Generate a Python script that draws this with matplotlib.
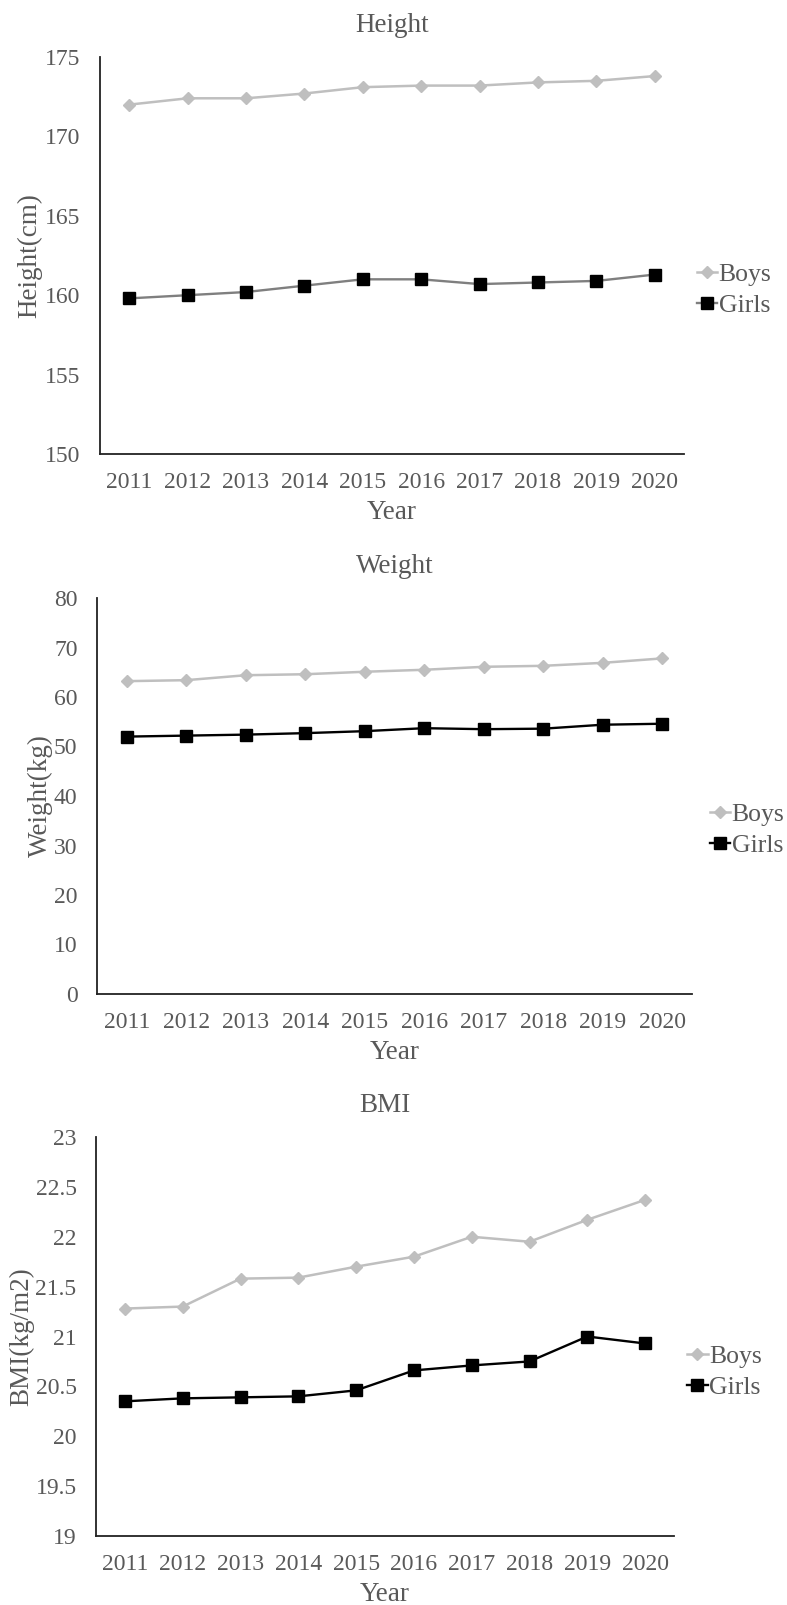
import matplotlib
matplotlib.use('Agg')
import matplotlib.pyplot as plt

plt.rcParams.update({
    'font.family': ['Liberation Serif', 'DejaVu Serif'],
    'text.color': '#595959',
    'axes.labelcolor': '#595959',
    'xtick.color': '#595959',
    'ytick.color': '#595959',
})

years = ['2011', '2012', '2013', '2014', '2015', '2016', '2017', '2018', '2019', '2020']

height_boys = [172.0, 172.4, 172.4, 172.7, 173.1, 173.2, 173.2, 173.4, 173.5, 173.8]
height_girls = [159.8, 160.0, 160.2, 160.6, 161.0, 161.0, 160.7, 160.8, 160.9, 161.3]

weight_boys = [63.2, 63.4, 64.4, 64.6, 65.1, 65.5, 66.1, 66.3, 66.9, 67.8]
weight_girls = [52.0, 52.2, 52.4, 52.7, 53.1, 53.7, 53.5, 53.6, 54.4, 54.6]

bmi_boys = [21.28, 21.30, 21.58, 21.59, 21.70, 21.80, 22.00, 21.95, 22.17, 22.37]
bmi_girls = [20.35, 20.38, 20.39, 20.40, 20.46, 20.66, 20.71, 20.75, 21.00, 20.93]

W, H = 787, 1605
fig = plt.figure(figsize=(W / 100, H / 100), dpi=100)

BOYS = '#BFBFBF'


def px_axes(left, right, top, bottom):
    return fig.add_axes([left / W, 1 - bottom / H, (right - left) / W, (bottom - top) / H])


def panel(ax, boys, girls, girls_line, title, ylabel, ylim, yticks, yticklabels,
          label_x, leg_xy):
    x = range(len(years))
    ax.plot(x, boys, color=BOYS, linewidth=1.8, marker='D', markersize=6.5,
            markerfacecolor=BOYS, markeredgecolor=BOYS, label='Boys')
    ax.plot(x, girls, color=girls_line, linewidth=1.7, marker='s', markersize=8.5,
            markerfacecolor='black', markeredgecolor='black', label='Girls')
    ax.set_xlim(-0.5, len(years) - 0.5)
    ax.set_ylim(*ylim)
    ax.set_xticks(list(x))
    ax.set_xticklabels(years)
    ax.set_yticks(yticks)
    ax.set_yticklabels(yticklabels)
    ax.tick_params(length=0, labelsize=17)
    ax.tick_params(axis='x', pad=13)
    ax.tick_params(axis='y', pad=14)
    for s in ['top', 'right']:
        ax.spines[s].set_visible(False)
    for s in ['left', 'bottom']:
        ax.spines[s].set_color('#222222')
        ax.spines[s].set_linewidth(1.3)
    ax.set_title(title, fontsize=19.5, color='#595959', pad=18)
    ax.set_xlabel('Year', fontsize=19.5, labelpad=5)
    ax.set_ylabel(ylabel, fontsize=19.5)
    ax.yaxis.set_label_coords(label_x, 0.5)
    ax.legend(loc='center left', bbox_to_anchor=leg_xy, frameon=False,
              fontsize=18.5, handlelength=0.8, handletextpad=0.05,
              labelspacing=0.33, borderaxespad=0, borderpad=0)


ax1 = px_axes(100, 684, 57, 454)
panel(ax1, height_boys, height_girls, '#7F7F7F', 'Height', 'Height(cm)',
      (150, 175), [150, 155, 160, 165, 170, 175],
      ['150', '155', '160', '165', '170', '175'], -0.098, (1.022, 0.413))

ax2 = px_axes(97, 692, 598, 994)
panel(ax2, weight_boys, weight_girls, 'black', 'Weight', 'Weight(kg)',
      (0, 80), [0, 10, 20, 30, 40, 50, 60, 70, 80],
      ['0', '10', '20', '30', '40', '50', '60', '70', '80'], -0.074, (1.03, 0.414))

ax3 = px_axes(96, 674, 1137, 1536)
panel(ax3, bmi_boys, bmi_girls, 'black', 'BMI', 'BMI(kg/m2)',
      (19, 23), [19, 19.5, 20, 20.5, 21, 21.5, 22, 22.5, 23],
      ['19', '19.5', '20', '20.5', '21', '21.5', '22', '22.5', '23'], -0.107, (1.0225, 0.411))

fig.savefig('out.png', dpi=100)
